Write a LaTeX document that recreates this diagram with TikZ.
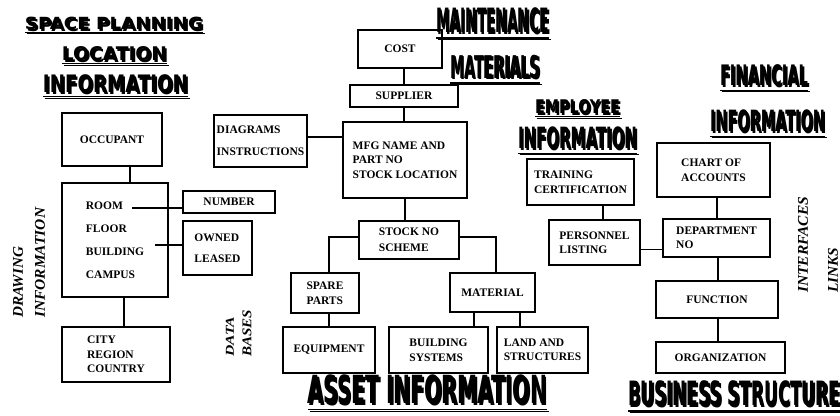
\documentclass[tikz,border=0pt]{standalone}
\usepackage{fontspec}
\setmainfont{Liberation Serif}
\newfontfamily\ttlfont{DejaVu Sans}
\usepackage{graphicx}

% heavy underlined heading with a small drop shadow: name, x, y, width, height, text
\newcommand\heading[6]{%
  \node[ttl] (#1-sh) at (#2+1.6,#3+1.6) {\resizebox*{#4pt}{#5pt}{\underline{#6}}};
  \node[ttl] (#1) at (#2,#3) {\resizebox*{#4pt}{#5pt}{\underline{#6}}};
}
% rotated italic side label, starting at its lower end: name, x, y, length, height, text
\newcommand\sidelabel[6]{%
  \node[side] (#1) at (#2,#3) {\resizebox*{#4pt}{#5pt}{#6}};
}

\begin{document}
\begin{tikzpicture}[x=1pt,y=-1pt,
  box/.style={draw, line width=1.6pt, inner sep=0pt, align=left,
              font=\fontsize{11.5}{14.5}\selectfont\bfseries},
  wire/.style={line width=1.4pt},
  side/.style={rotate=90, anchor=west, inner sep=0pt, font=\bfseries\itshape},
  ttl/.style={inner sep=0pt, font=\ttlfont\bfseries}]
\useasboundingbox (0,0) rectangle (840,415);

% ---------- space planning / location ----------
\heading{t-space}{114}{25}{178}{16}{SPACE PLANNING}
\heading{t-loc}{114.5}{56}{105}{18}{LOCATION}
\heading{t-info1}{115.5}{86.5}{145}{23}{INFORMATION}

\node[box, minimum width=100, minimum height=53] (occ) at (112,139.5) {OCCUPANT};
\node[box, minimum width=106, minimum height=114, font=\fontsize{11.5}{23}\selectfont\bfseries]
  (loc) at (115,240) {ROOM\\FLOOR\\BUILDING\\CAMPUS};
\node[box, minimum width=92, minimum height=22] (num) at (229,202) {NUMBER};
\node[box, minimum width=69, minimum height=54, font=\fontsize{11.5}{21}\selectfont\bfseries]
  (own) at (217.5,248) {OWNED\\LEASED};
\node[box, minimum width=108, minimum height=55] (city) at (116,354.5) {CITY\\REGION\\COUNTRY};

\coordinate (roomend) at (132,208);
\coordinate (ownend) at (155,245);
\draw[wire] ([xshift=18]occ.south) -- ([xshift=18]occ.south |- loc.north);
\draw[wire] ([xshift=9]loc.south) -- ([xshift=9]loc.south |- city.north);
\draw[wire] (roomend) -- (roomend -| num.west);
\draw[wire] (ownend) -- (ownend -| own.west);

\sidelabel{s-draw}{18}{318}{71}{10}{DRAWING}
\sidelabel{s-dinfo}{40}{318}{110}{10}{INFORMATION}

% ---------- maintenance materials / assets ----------
\heading{t-maint}{492.5}{24}{113}{32}{MAINTENANCE}
\heading{t-mat}{495}{70}{90}{30}{MATERIALS}

\node[box, minimum width=84, minimum height=38] (cost) at (400,49) {COST};
\node[box, minimum width=108, minimum height=22] (sup) at (404,96) {SUPPLIER};
\node[box, minimum width=124, minimum height=76]
  (mfg) at (405,160) {MFG NAME AND\\PART NO\\STOCK LOCATION};
\node[box, minimum width=93, minimum height=52, font=\fontsize{11.5}{22}\selectfont\bfseries]
  (diag) at (260.5,141) {DIAGRAMS\\INSTRUCTIONS};
\node[box, minimum width=100, minimum height=38, font=\fontsize{11.5}{16}\selectfont\bfseries]
  (stock) at (409,240) {STOCK NO\\SCHEME};
\node[box, minimum width=68, minimum height=40] (spare) at (325,293) {SPARE\\PARTS};
\node[box, minimum width=85, minimum height=39] (mat) at (492.5,292.5) {MATERIAL};
\node[box, minimum width=92, minimum height=46] (equip) at (329,350) {EQUIPMENT};
\node[box, minimum width=99, minimum height=46] (bsys) at (438.5,350) {BUILDING\\SYSTEMS};
\node[box, minimum width=91, minimum height=46] (land) at (542.5,350) {LAND AND\\STRUCTURES};

\draw[wire] (sup.north) -- (sup.north |- cost.south);
\draw[wire] (sup.south) -- (sup.south |- mfg.north);
\draw[wire] ([yshift=4]diag.east) -- ([yshift=4]diag.east -| mfg.west);
\draw[wire] (mfg.south) -- (mfg.south |- stock.north);
\draw[wire] ([yshift=3]stock.west) -| ([xshift=4]spare.north);
\draw[wire] ([yshift=3]stock.east) -| ([xshift=3.5]mat.north);
\draw[wire] ([xshift=4]spare.south) -- ([xshift=4]spare.south |- equip.north);
\draw[wire] ([xshift=-18.5]mat.south) -- ([xshift=-18.5]mat.south |- bsys.north);
\draw[wire] ([xshift=27.5]mat.south) -- ([xshift=27.5]mat.south |- land.north);

\sidelabel{s-data}{230}{357}{40}{8}{DATA}
\sidelabel{s-bases}{247}{357}{47}{9}{BASES}

\heading{t-asset}{427.5}{393.5}{239}{37}{ASSET INFORMATION}

% ---------- employee information ----------
\heading{t-emp}{577.5}{109}{85}{18}{EMPLOYEE}
\heading{t-info2}{577.5}{141}{119}{28}{INFORMATION}

\node[box, minimum width=107, minimum height=46] (train) at (580.5,182) {TRAINING\\CERTIFICATION};
\node[box, minimum width=91, minimum height=45] (pers) at (594.5,242.5) {PERSONNEL\\LISTING};
\draw[wire] ([xshift=22.5]train.south) -- ([xshift=22.5]train.south |- pers.north);

% ---------- financial information / business structure ----------
\heading{t-fin}{764}{78.5}{88}{27}{FINANCIAL}
\heading{t-info3}{767.5}{124}{115}{28}{INFORMATION}

\node[box, minimum width=113, minimum height=54] (chart) at (713.5,170) {CHART OF\\ACCOUNTS};
\node[box, minimum width=107, minimum height=38] (dept) at (716.5,238) {DEPARTMENT\\NO};
\node[box, minimum width=122, minimum height=37] (func) at (717,299.5) {FUNCTION};
\node[box, minimum width=129, minimum height=31] (org) at (720.5,357.5) {ORGANIZATION};

\draw[wire] ([yshift=-7]pers.east) -- ([yshift=-7]pers.east -| dept.west);
\draw[wire] ([xshift=3.5]chart.south) -- ([xshift=3.5]chart.south |- dept.north);
\draw[wire] ([xshift=1.5]dept.south) -- ([xshift=1.5]dept.south |- func.north);
\draw[wire] ([xshift=1]func.south) -- ([xshift=1]func.south |- org.north);

\heading{t-bus}{734}{397}{212}{32}{BUSINESS STRUCTURE}

\sidelabel{s-inter}{803}{293}{96}{10}{INTERFACES}
\sidelabel{s-links}{833}{293}{45}{10}{LINKS}
\end{tikzpicture}
\end{document}
